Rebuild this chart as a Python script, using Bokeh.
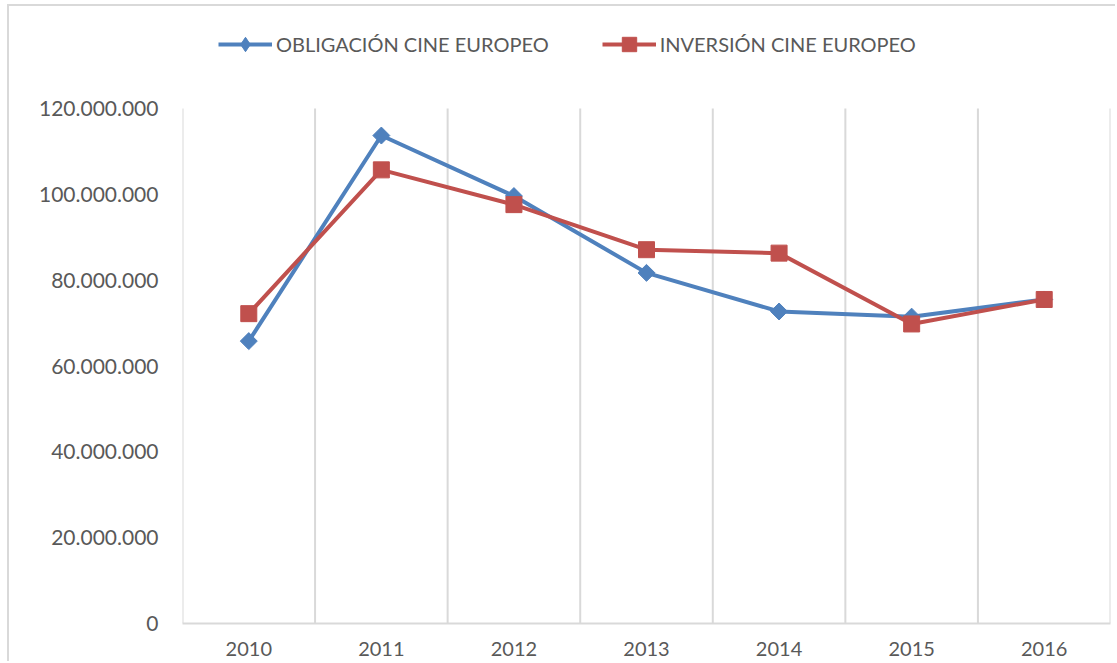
from bokeh.plotting import figure
from bokeh.models import (Range1d, FixedTicker, CustomJSTickFormatter, Legend, LegendItem)
from bokeh.embed import file_html
from bokeh.resources import INLINE
import math

years = ["2010", "2011", "2012", "2013", "2014", "2015", "2016"]
obligacion = [65.8e6, 113.7e6, 99.6e6, 81.7e6, 72.7e6, 71.5e6, 75.5e6]
inversion = [72.2e6, 105.7e6, 97.6e6, 87.1e6, 86.3e6, 69.8e6, 75.5e6]
y_ticks = [0, 20e6, 40e6, 60e6, 80e6, 100e6, 120e6]

BLUE = "#4F81BD"
RED = "#C0504D"
GRID = "#D9D9D9"
TXT = "#595959"
FONT = "Lato"

xs = [i + 0.5 for i in range(len(years))]
bounds = list(range(len(years) + 1))
y_top = max(y_ticks)
# frame extends above the value axis to hold the legend
y_end = y_top * (623 - 20) / (623 - 108)

p = figure(width=1108, height=657, output_backend="svg", toolbar_location=None,
           x_range=Range1d(0, len(years)), y_range=Range1d(0, y_end),
           min_border_left=173, min_border_right=7, min_border_top=14, min_border_bottom=40)
p.styles = {"margin-left": "7px", "margin-top": "4px",
            "border-left": "2px solid #D9D9D9", "border-top": "2px solid #D9D9D9"}
p.outline_line_color = None
p.background_fill_color = "white"

# x axis
p.xaxis.ticker = FixedTicker(ticks=xs)
p.xaxis.formatter = CustomJSTickFormatter(args=dict(years=years),
                                          code="return years[Math.floor(tick)];")
p.xaxis.axis_line_color = GRID
p.xaxis.axis_line_width = 2
p.xaxis.major_tick_line_color = None
p.xaxis.minor_tick_line_color = None
p.xaxis.major_label_text_font = FONT
p.xaxis.major_label_text_font_size = "20px"
p.xaxis.major_label_text_color = TXT
p.xaxis.major_label_standoff = 12

# y axis
p.yaxis.ticker = FixedTicker(ticks=y_ticks)
p.yaxis.formatter = CustomJSTickFormatter(
    code="return tick.toFixed(0).replace(/\\B(?=(\\d{3})+(?!\\d))/g, '.');")
p.yaxis.axis_line_color = None
p.yaxis.major_tick_line_color = None
p.yaxis.minor_tick_line_color = None
p.yaxis.major_label_text_font = FONT
p.yaxis.major_label_text_font_size = "21px"
p.yaxis.major_label_text_color = TXT
p.yaxis.major_label_standoff = 18

# grid: vertical lines at category boundaries, up to the top value
p.ygrid.grid_line_color = None
p.xgrid.grid_line_color = None
p.segment(x0=bounds, y0=[0] * len(bounds), x1=bounds, y1=[y_top] * len(bounds),
          line_color=GRID, line_width=2)

l1 = p.line(xs, obligacion, line_color=BLUE, line_width=4)
m1 = p.scatter(xs, obligacion, marker="square", size=12, angle=math.pi / 4,
               fill_color=BLUE, line_color=BLUE)
# legend-only diamond glyph (a single undrawn NaN point)
m1_leg = p.scatter(x=[float("nan")], y=[float("nan")], marker="diamond", size=18,
                   fill_color=BLUE, line_color=BLUE)
l2 = p.line(xs, inversion, line_color=RED, line_width=4)
m2 = p.scatter(xs, inversion, marker="square", size=16,
               fill_color=RED, line_color=RED)

legend = Legend(items=[
    LegendItem(label="OBLIGACIÓN CINE EUROPEO", renderers=[l1, m1_leg]),
    LegendItem(label="INVERSIÓN CINE EUROPEO", renderers=[l2, m2]),
], orientation="horizontal", location=(36, 561))
legend.padding = 0
legend.margin = 0
legend.spacing = 53
legend.label_standoff = 4
legend.glyph_width = 54
legend.glyph_height = 36
legend.border_line_color = None
legend.background_fill_alpha = 0
legend.label_text_font = FONT
legend.label_text_font_size = "20px"
legend.label_text_color = TXT
p.add_layout(legend, "center")

open("out.html", "w").write(file_html(p, INLINE))
